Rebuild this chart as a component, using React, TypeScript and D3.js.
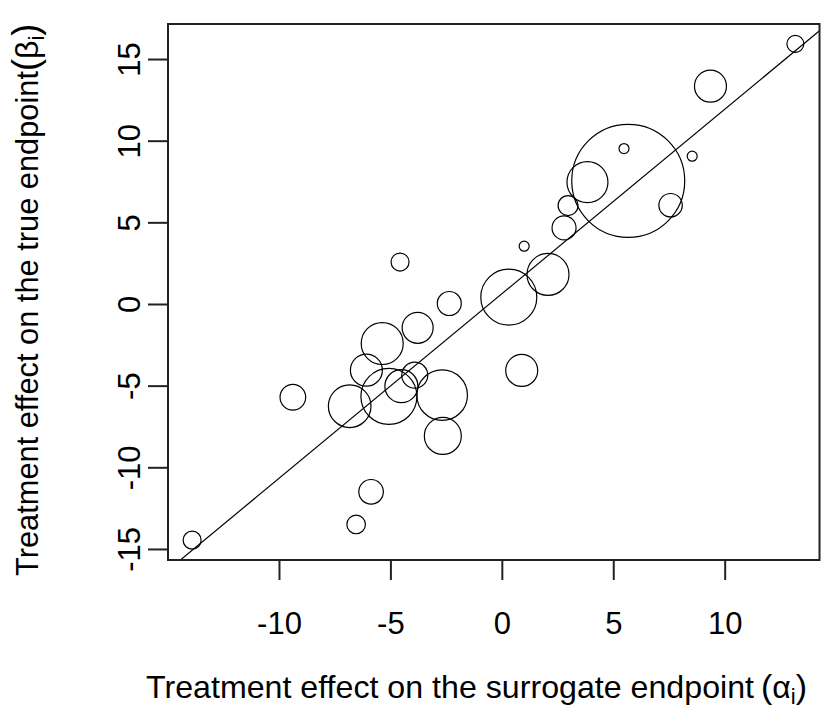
import React, { useRef, useEffect } from 'react';
import * as d3 from 'd3';

// trial-level treatment effects
const alpha = [13.15, 9.34, 5.65, 5.46, 8.52, 3.82, 7.55, 2.95, 2.77, 0.98, 2.05, -4.59, 0.29, -2.38,
  -5.39, -3.8, -6.1, 0.87, -3.93, -4.53, -5.09, -2.7, -6.85, -9.4, -2.67, -5.89, -6.56, -13.92];
const beta = [15.96, 13.37, 7.57, 9.55, 9.08, 7.49, 6.08, 6.06, 4.69, 3.57, 1.84, 2.6, 0.45, 0.06,
  -2.39, -1.43, -4.02, -4.04, -4.33, -5.0, -5.63, -5.55, -6.23, -5.68, -8.05, -11.47, -13.47, -14.43];
// circle area ~ trial size
const trialSize = [72, 256, 3192, 25, 25, 420, 137, 100, 144, 25, 441, 81, 784, 144,
  441, 240, 256, 256, 169, 272, 784, 640, 454, 164, 342, 151, 86, 81];

const xTicks = [-10, -5, 0, 5, 10];
const yTicks = [-15, -10, -5, 0, 5, 10, 15];

const intercept = 0.68;
const slope = 1.13;

const W = 821;
const H = 709;
const margin = { top: 24, right: 1.5, bottom: 149, left: 168 };
const font = "'Liberation Sans', Arial, sans-serif";

// R style: data range padded by 4% each side
const pad = (ext: [number, number]) => {
  const d = (ext[1] - ext[0]) * 0.04;
  return [ext[0] - d, ext[1] + d];
};

const App = () => {
  const ref = useRef<SVGSVGElement>(null);

  useEffect(() => {
    const svg = d3.select(ref.current);
    svg.selectAll('*').remove();

    const x = d3.scaleLinear()
      .domain(pad(d3.extent(alpha) as [number, number]))
      .range([margin.left, W - margin.right]);
    const y = d3.scaleLinear()
      .domain(pad(d3.extent(beta) as [number, number]))
      .range([H - margin.bottom, margin.top]);
    const r = d3.scaleSqrt().domain([0, 3250]).range([0, 57]);

    const [x0, x1] = x.range();
    const [y0, y1] = y.range();

    svg.append('clipPath').attr('id', 'plotArea')
      .append('rect')
      .attr('x', x0).attr('y', y1)
      .attr('width', x1 - x0).attr('height', y0 - y1);

    const data = alpha.map((a, i) => ({ a, b: beta[i], n: trialSize[i] }));

    const plot = svg.append('g').attr('clip-path', 'url(#plotArea)');

    plot.selectAll('circle')
      .data(data)
      .enter()
      .append('circle')
      .attr('cx', d => x(d.a))
      .attr('cy', d => y(d.b))
      .attr('r', d => r(d.n))
      .attr('fill', 'none')
      .attr('stroke', '#000')
      .attr('stroke-width', 1.2);

    const [dx0, dx1] = x.domain();
    const line = d3.line<number>()
      .x(v => x(v))
      .y(v => y(intercept + slope * v));
    plot.append('path')
      .attr('d', line([dx0, dx1]))
      .attr('fill', 'none')
      .attr('stroke', '#000')
      .attr('stroke-width', 1.2);

    // box
    svg.append('rect')
      .attr('x', x0).attr('y', y1)
      .attr('width', x1 - x0).attr('height', y0 - y1)
      .attr('fill', 'none')
      .attr('stroke', '#222')
      .attr('stroke-width', 2);

    // x axis
    const xAxis = svg.append('g');
    xAxis.selectAll('line')
      .data(xTicks)
      .enter()
      .append('line')
      .attr('x1', d => x(d)).attr('x2', d => x(d))
      .attr('y1', y0).attr('y2', y0 + 20)
      .attr('stroke', '#222')
      .attr('stroke-width', 2);
    xAxis.selectAll('text')
      .data(xTicks)
      .enter()
      .append('text')
      .attr('x', d => x(d))
      .attr('y', y0 + 74)
      .attr('text-anchor', 'middle')
      .attr('font-family', font)
      .attr('font-size', 31)
      .text(d => String(d));

    // y axis
    const yAxis = svg.append('g');
    yAxis.selectAll('line')
      .data(yTicks)
      .enter()
      .append('line')
      .attr('x1', x0 - 20).attr('x2', x0)
      .attr('y1', d => y(d)).attr('y2', d => y(d))
      .attr('stroke', '#222')
      .attr('stroke-width', 2);
    yAxis.selectAll('text')
      .data(yTicks)
      .enter()
      .append('text')
      .attr('transform', d => `translate(${x0 - 28},${y(d)}) rotate(-90)`)
      .attr('text-anchor', 'middle')
      .attr('font-family', font)
      .attr('font-size', 31)
      .text(d => String(d));

    // axis titles (plotmath-like: big parens, subscript i)
    const xt = svg.append('text')
      .attr('x', 146)
      .attr('y', 698)
      .attr('font-family', font)
      .attr('font-size', 32);
    xt.append('tspan').attr('textLength', 608).attr('lengthAdjust', 'spacingAndGlyphs')
      .text('Treatment effect on the surrogate endpoint');
    xt.append('tspan').attr('dx', 7).attr('font-size', 34).text('(');
    xt.append('tspan').text('α');
    xt.append('tspan').attr('font-size', 22).attr('dy', 6).text('i');
    xt.append('tspan').attr('dy', -6).attr('font-size', 34).text(')');

    const yt = svg.append('text')
      .attr('transform', `translate(38,576) rotate(-90)`)
      .attr('font-family', font)
      .attr('font-size', 32);
    yt.append('tspan').attr('textLength', 505).attr('lengthAdjust', 'spacingAndGlyphs')
      .text('Treatment effect on the true endpoint');
    yt.append('tspan').attr('font-size', 36).text('(');
    yt.append('tspan').text('β');
    yt.append('tspan').attr('font-size', 22).attr('dy', 6).text('i');
    yt.append('tspan').attr('dy', -6).attr('font-size', 36).text(')');
  }, []);

  return (
    <svg ref={ref} width={W} height={H}
      style={{ position: 'absolute', left: 0, top: 0, background: '#fff' }} />
  );
};

export default App;
